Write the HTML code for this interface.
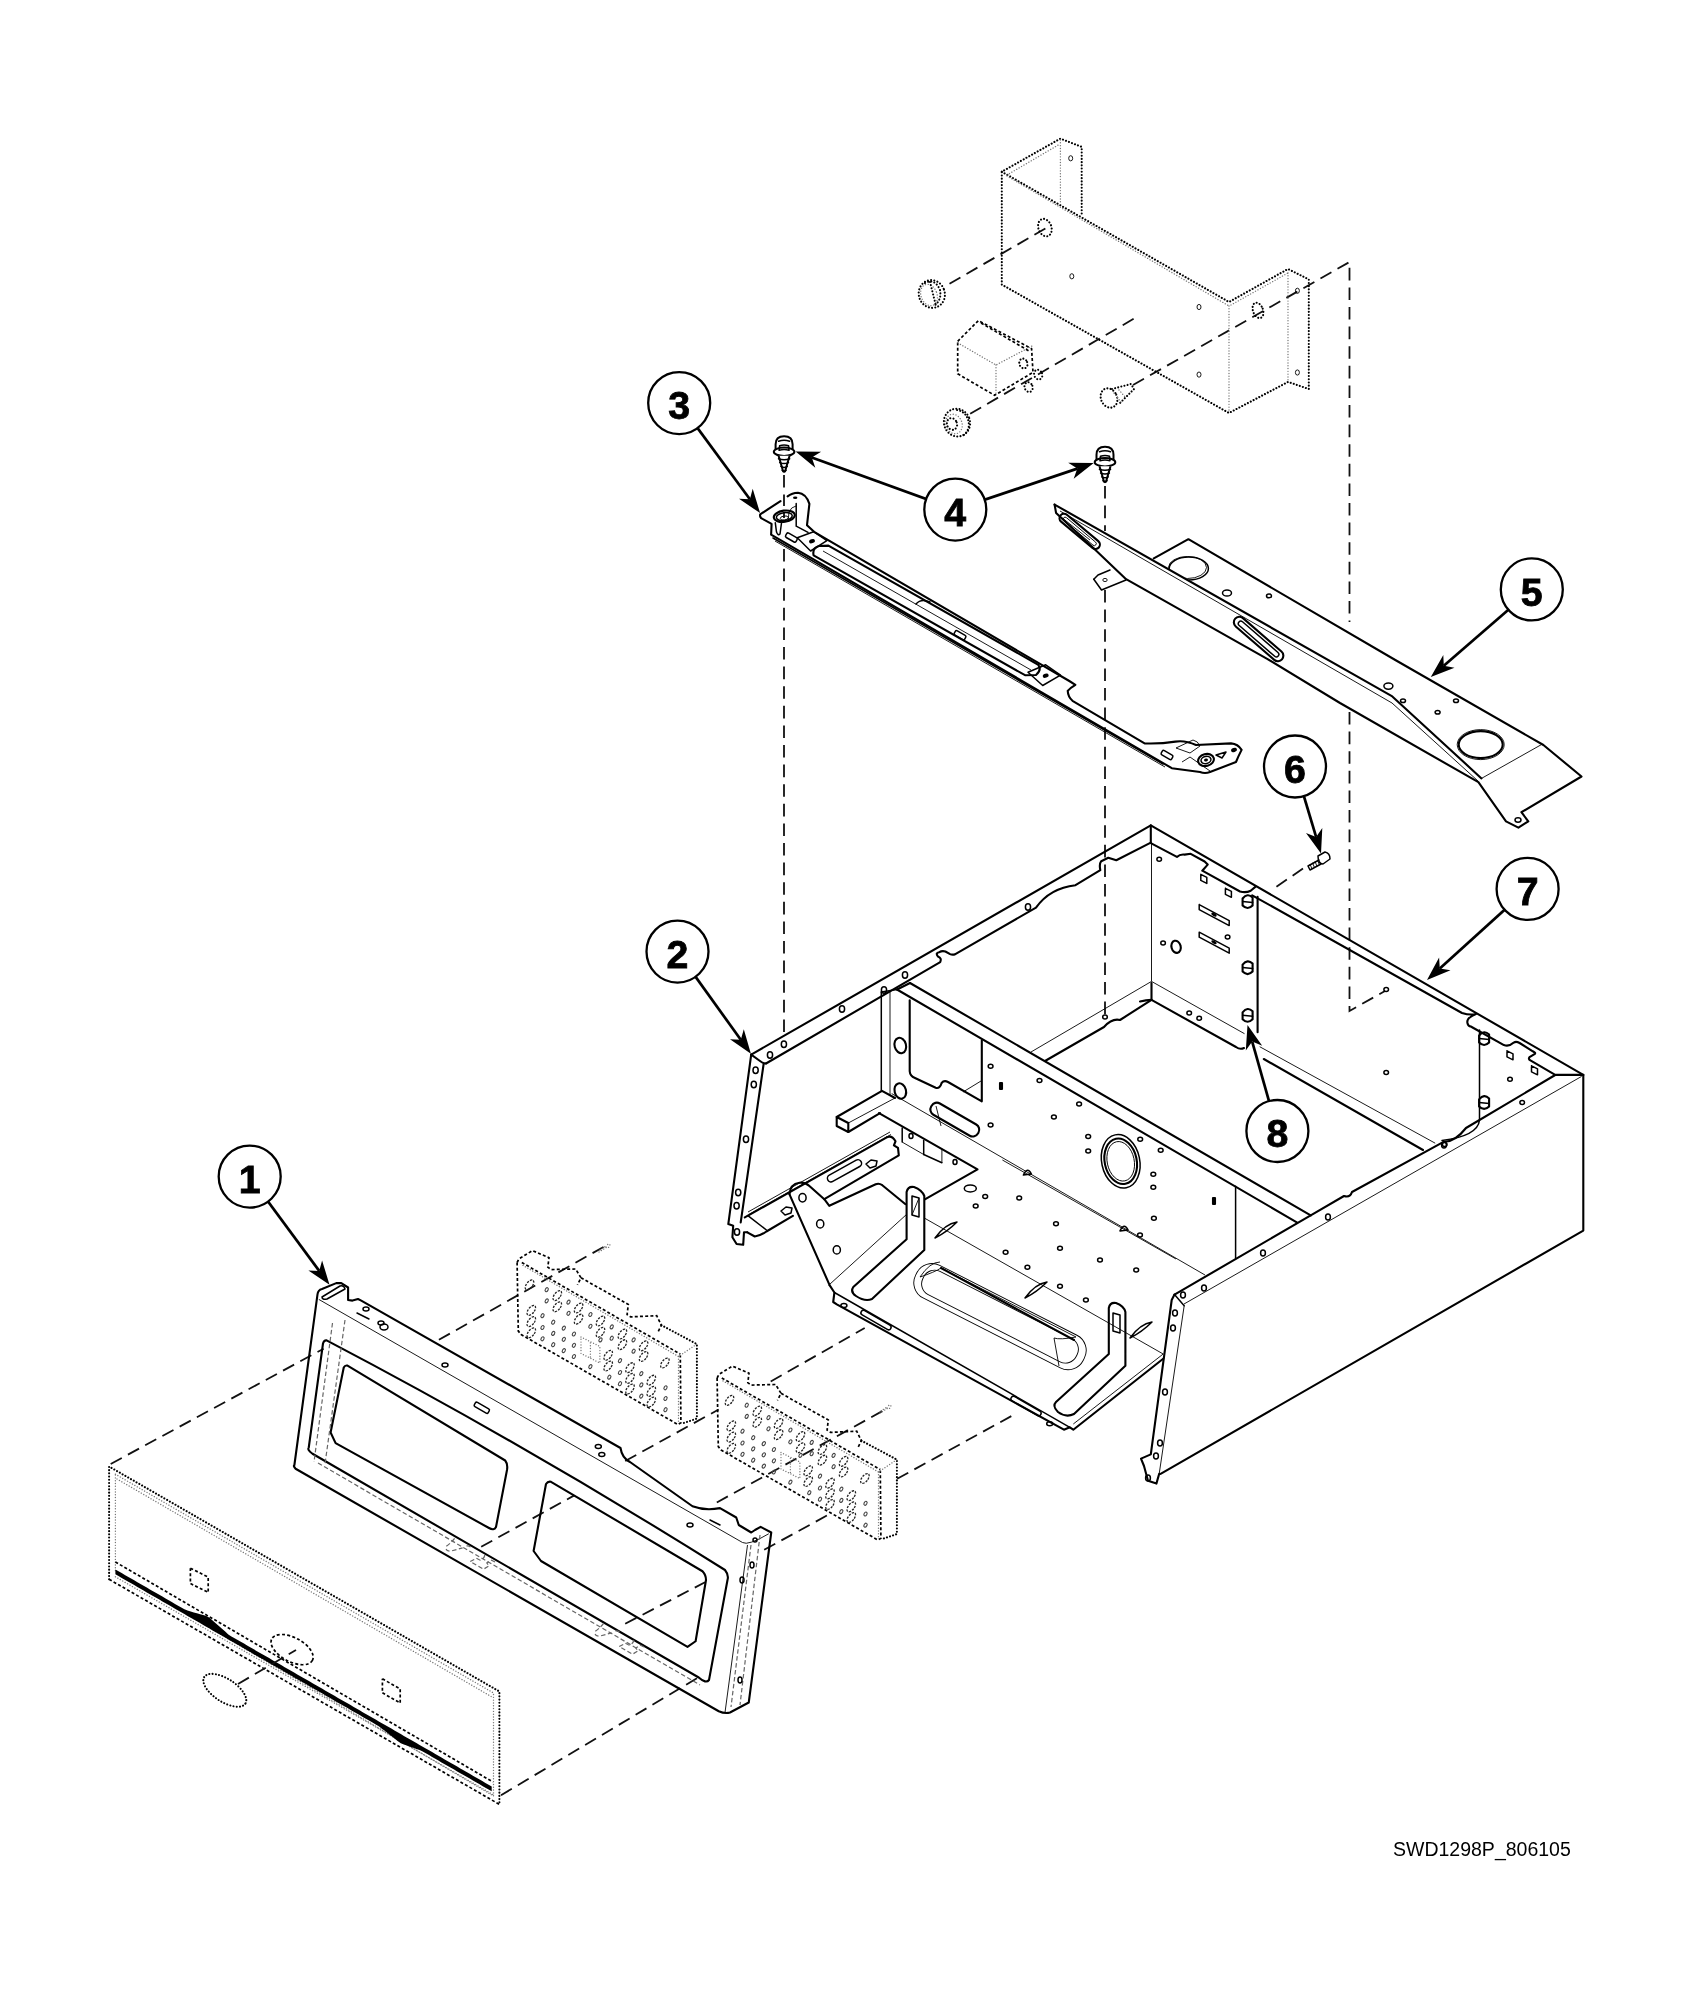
<!DOCTYPE html>
<html><head><meta charset="utf-8"><style>
html,body{margin:0;padding:0;background:#fff;}
svg{display:block;filter:grayscale(1);}
.k{fill:none;stroke:#000;stroke-width:2.1;stroke-linejoin:round;stroke-linecap:round;}
.sw{fill:#fff;stroke:#000;stroke-width:2;stroke-linejoin:round;}
.ho{fill:none;stroke:#222;stroke-width:1.3;stroke-dasharray:2.2 1.3;}
.hs{fill:none;stroke:#444;stroke-width:1.1;}
.hd{fill:none;stroke:#666;stroke-width:1.2;stroke-dasharray:4.5 2.5;}
.m{fill:none;stroke:#000;stroke-width:1.5;stroke-linejoin:round;stroke-linecap:round;}
.t{fill:none;stroke:#000;stroke-width:0.9;stroke-linejoin:round;}
.d{fill:none;stroke:#111;stroke-width:1.8;stroke-dasharray:12.6 7;}
.o{fill:none;stroke:#000;stroke-width:2.1;stroke-dasharray:0.01 3.2;stroke-linecap:round;}
.os{fill:none;stroke:#777;stroke-width:1.4;stroke-dasharray:0.01 2.8;stroke-linecap:round;}
.od{fill:none;stroke:#000;stroke-width:1.7;stroke-dasharray:3 2.2;}
.co{fill:#fff;stroke:#000;stroke-width:2.3;}
.ar{stroke:#000;stroke-width:2.7;}
.ah{fill:#000;stroke:none;}
.fk{fill:#000;stroke:none;}
.num{font-family:"Liberation Sans",sans-serif;font-weight:bold;font-size:39.3px;text-anchor:middle;fill:#000;stroke:#000;stroke-width:0.8;}
.lab{font-family:"Liberation Sans",sans-serif;font-size:19.5px;fill:#000;}
</style></head><body>
<svg width="1691" height="2000" viewBox="0 0 1691 2000">
<text x="1393" y="1856" class="lab">SWD1298P_806105</text>
<line class="d" x1="784.0" y1="475.0" x2="784.0" y2="506.0"/>
<line class="d" x1="784.0" y1="512.0" x2="784.0" y2="518.0"/>
<line class="d" x1="784.0" y1="549.0" x2="784.0" y2="1036.0"/>
<line class="d" x1="1105.0" y1="486.0" x2="1105.0" y2="531.0"/>
<line class="d" x1="1105.0" y1="590.0" x2="1105.0" y2="1016.0"/>
<path class="d" d="M1133.0 385.0 L1349.5 262.0 L1349.5 622.0" />
<path class="d" d="M1349.5 712.0 L1349.5 1011.0 L1385.0 991.0" />
<line class="d" x1="949.5" y1="283.7" x2="1047.0" y2="227.6"/>
<line class="d" x1="970.2" y1="413.8" x2="1139.5" y2="315.4"/>
<line class="d" x1="1303.0" y1="868.5" x2="1273.3" y2="888.9"/>
<line class="d" x1="110.7" y1="1464.0" x2="323.6" y2="1348.7"/>
<line class="d" x1="501.0" y1="1795.2" x2="699.0" y2="1677.0"/>
<line class="d" x1="438.9" y1="1339.8" x2="609.3" y2="1243.7"/>
<line class="d" x1="625.2" y1="1461.0" x2="718.6" y2="1409.5"/>
<line class="d" x1="770.7" y1="1381.5" x2="864.7" y2="1328.0"/>
<line class="d" x1="716.8" y1="1502.5" x2="888.3" y2="1407.8"/>
<line class="d" x1="764.2" y1="1549.8" x2="829.2" y2="1514.3"/>
<line class="d" x1="897.2" y1="1478.8" x2="1015.5" y2="1413.8"/>
<line class="d" x1="481.2" y1="1546.8" x2="574.3" y2="1495.4"/>
<line class="d" x1="625.2" y1="1623.7" x2="705.0" y2="1582.3"/>
<line class="ar" x1="677.5" y1="951.6" x2="740.8" y2="1039.8"/>
<path class="ah" d="M750.9 1053.8 L730.0 1039.3 L740.8 1039.8 L743.8 1029.3 Z"/>
<line class="ar" x1="249.7" y1="1176.6" x2="319.2" y2="1270.9"/>
<path class="ah" d="M329.5 1284.8 L308.4 1270.5 L319.2 1270.9 L322.1 1260.4 Z"/>
<line class="ar" x1="679.2" y1="403.1" x2="749.9" y2="499.2"/>
<path class="ah" d="M760.1 513.1 L739.0 498.8 L749.9 499.2 L752.7 488.7 Z"/>
<line class="ar" x1="955.3" y1="509.6" x2="811.8" y2="457.5"/>
<path class="ah" d="M795.6 451.6 L821.1 451.8 L811.8 457.5 L815.3 467.8 Z"/>
<line class="ar" x1="955.3" y1="509.6" x2="1077.3" y2="468.6"/>
<path class="ah" d="M1093.7 463.1 L1073.7 478.8 L1077.3 468.6 L1068.2 462.7 Z"/>
<line class="ar" x1="1531.8" y1="589.4" x2="1443.8" y2="665.8"/>
<path class="ah" d="M1430.8 677.1 L1443.3 654.9 L1443.8 665.8 L1454.5 667.8 Z"/>
<line class="ar" x1="1295.0" y1="766.5" x2="1316.1" y2="836.9"/>
<path class="ah" d="M1321.0 853.5 L1306.0 832.9 L1316.1 836.9 L1322.3 828.1 Z"/>
<line class="ar" x1="1527.6" y1="888.9" x2="1439.8" y2="968.4"/>
<path class="ah" d="M1427.0 980.0 L1439.1 957.6 L1439.8 968.4 L1450.5 970.2 Z"/>
<line class="ar" x1="1277.4" y1="1131.0" x2="1252.2" y2="1041.6"/>
<path class="ah" d="M1247.5 1025.0 L1262.2 1045.8 L1252.2 1041.6 L1245.8 1050.4 Z"/>
<circle class="co" cx="249.7" cy="1176.6" r="31"/>
<text x="249.7" y="1192.8999999999999" class="num">1</text>
<circle class="co" cx="677.5" cy="951.6" r="31"/>
<text x="677.5" y="967.9" class="num">2</text>
<circle class="co" cx="679.2" cy="403.1" r="31"/>
<text x="679.2" y="419.40000000000003" class="num">3</text>
<circle class="co" cx="955.3" cy="509.6" r="31"/>
<text x="955.3" y="525.9" class="num">4</text>
<circle class="co" cx="1531.8" cy="589.4" r="31"/>
<text x="1531.8" y="605.6999999999999" class="num">5</text>
<circle class="co" cx="1295" cy="766.5" r="31"/>
<text x="1295" y="782.8" class="num">6</text>
<circle class="co" cx="1527.6" cy="888.9" r="31"/>
<text x="1527.6" y="905.1999999999999" class="num">7</text>
<circle class="co" cx="1277.4" cy="1131" r="31"/>
<text x="1277.4" y="1147.3" class="num">8</text>
<path class="o" d="M1001.8 284.6 L1001.8 171.7 L1060.4 138.6 L1081.7 146.9 L1081.7 216.3" />
<path class="o" d="M1001.8 171.7 L1229.0 302.0 L1288.0 269.0 L1308.8 279.4 L1308.8 389.0 L1288.0 381.9 L1229.0 413.0 L1001.8 284.6" />
<line class="os" x1="1060.4" y1="140.0" x2="1060.4" y2="203.0"/>
<line class="os" x1="1007.0" y1="175.0" x2="1060.0" y2="144.0"/>
<line class="os" x1="1007.0" y1="176.0" x2="1229.0" y2="306.0"/>
<line class="os" x1="1229.0" y1="306.0" x2="1229.0" y2="411.0"/>
<line class="os" x1="1288.0" y1="273.0" x2="1288.0" y2="380.0"/>
<line class="os" x1="1231.0" y1="305.0" x2="1288.0" y2="273.0"/>
<ellipse class="t" cx="1070.7" cy="158.3" rx="2.0" ry="2.6" transform="rotate(0 1070.7 158.3)"/>
<ellipse class="t" cx="1071.8" cy="276.3" rx="2.0" ry="2.6" transform="rotate(0 1071.8 276.3)"/>
<ellipse class="t" cx="1199.0" cy="307.0" rx="2.0" ry="2.6" transform="rotate(0 1199.0 307.0)"/>
<ellipse class="t" cx="1199.0" cy="374.6" rx="2.0" ry="2.6" transform="rotate(0 1199.0 374.6)"/>
<ellipse class="t" cx="1297.4" cy="290.8" rx="2.0" ry="2.6" transform="rotate(0 1297.4 290.8)"/>
<ellipse class="t" cx="1297.4" cy="372.5" rx="2.0" ry="2.6" transform="rotate(0 1297.4 372.5)"/>
<ellipse class="o" cx="1044.9" cy="227.6" rx="6.5" ry="9.0" transform="rotate(-20 1044.9 227.6)"/>
<ellipse class="o" cx="1258.0" cy="310.4" rx="5.0" ry="8.0" transform="rotate(-20 1258.0 310.4)"/>
<ellipse class="o" cx="931.8" cy="294.0" rx="13.0" ry="14.0" transform="rotate(-20 931.8 294.0)"/>
<ellipse class="os" cx="929.0" cy="295.0" rx="8.0" ry="11.0" transform="rotate(-20 929.0 295.0)"/>
<path class="o" d="M925 283 Q935 278 940 290 Q942 300 934 306" />
<line class="o" x1="930.0" y1="282.0" x2="936.0" y2="306.0"/>
<ellipse class="o" cx="957.0" cy="422.6" rx="13.0" ry="14.0" transform="rotate(-20 957.0 422.6)"/>
<ellipse class="os" cx="954.0" cy="424.0" rx="8.0" ry="10.0" transform="rotate(-20 954.0 424.0)"/>
<ellipse class="o" cx="952.0" cy="424.0" rx="5.0" ry="6.0" transform="rotate(-20 952.0 424.0)"/>
<path class="o" d="M957 410 Q968 412 969 425 Q968 433 962 436" />
<path class="od" d="M957.7 341.3 L978.4 320.6 L1031.6 348.7 L1033.0 372.4 L994.6 395.3 L957.7 373.8 L957.7 341.3" />
<path class="os" d="M958.0 343.0 L996.0 365.0 L1032.0 346.0" />
<line class="os" x1="996.0" y1="365.0" x2="996.0" y2="394.0"/>
<line class="od" x1="981.0" y1="323.0" x2="1029.0" y2="351.0"/>
<ellipse class="o" cx="1023.4" cy="363.5" rx="4.0" ry="5.0" transform="rotate(-20 1023.4 363.5)"/>
<ellipse class="o" cx="1038.2" cy="374.6" rx="4.0" ry="5.0" transform="rotate(-20 1038.2 374.6)"/>
<ellipse class="o" cx="1028.6" cy="387.1" rx="4.0" ry="5.0" transform="rotate(-20 1028.6 387.1)"/>
<ellipse class="o" cx="1109.0" cy="398.0" rx="8.0" ry="10.0" transform="rotate(-25 1109.0 398.0)"/>
<path class="o" d="M1112.0 389.0 L1131.0 384.0 L1134.0 389.0 L1118.0 405.0" />
<line class="os" x1="1114.0" y1="393.0" x2="1121.0" y2="402.0"/>
<line class="os" x1="1119.0" y1="390.0" x2="1126.0" y2="398.0"/>
<path class="m" d="M1318 856 L1325 852 Q1330 853 1330 859 L1323 864 Q1318 864 1318 856 Z" />
<path class="m" d="M1319.0 860.0 L1308.0 866.0 L1310.0 870.0 L1321.0 864.0" />
<line class="t" x1="1310.0" y1="864.0" x2="1312.0" y2="869.0"/>
<line class="t" x1="1312.5" y1="862.7" x2="1314.5" y2="867.7"/>
<line class="t" x1="1315.0" y1="861.4" x2="1317.0" y2="866.4"/>
<line class="t" x1="1317.5" y1="860.1" x2="1319.5" y2="865.1"/>
<path class="sw" d="M775.6 449.3 L775.6 444.3 Q775.6 436.3 784.1 436.3 Q792.6 436.3 792.6 444.3 L792.6 449.3" />
<ellipse class="sw" cx="784.1" cy="451.8" rx="10.3" ry="4.2" transform="rotate(0 784.1 451.8)"/>
<path class="m" d="M778.6 441.3 Q784.1 439.3 789.6 441.3" />
<path class="m" d="M779.6 445.8 Q784.1 444.3 788.6 445.8 L789.1 450.3 Q784.1 448.8 779.1 450.3 Z" />
<path class="sw" d="M778.6 455.8 L783.1 471.3 L784.1 471.8 L785.1 471.3 L789.6 455.8" />
<path class="m" d="M778.5 458.8 Q784.1 460.8 789.7 458.8" />
<path class="m" d="M779.7 462.6 Q784.1 464.6 788.5 462.6" />
<path class="m" d="M780.9 466.40000000000003 Q784.1 468.40000000000003 787.3000000000001 466.40000000000003" />
<path class="m" d="M782.1 470.2 Q784.1 472.2 786.1 470.2" />
<path class="sw" d="M1096.5 459.7 L1096.5 454.7 Q1096.5 446.7 1105 446.7 Q1113.5 446.7 1113.5 454.7 L1113.5 459.7" />
<ellipse class="sw" cx="1105.0" cy="462.2" rx="10.3" ry="4.2" transform="rotate(0 1105.0 462.2)"/>
<path class="m" d="M1099.5 451.7 Q1105 449.7 1110.5 451.7" />
<path class="m" d="M1100.5 456.2 Q1105 454.7 1109.5 456.2 L1110 460.7 Q1105 459.2 1100 460.7 Z" />
<path class="sw" d="M1099.5 466.2 L1104.0 481.7 L1105.0 482.2 L1106.0 481.7 L1110.5 466.2" />
<path class="m" d="M1099.4 469.2 Q1105 471.2 1110.6 469.2" />
<path class="m" d="M1100.6 473.0 Q1105 475.0 1109.4 473.0" />
<path class="m" d="M1101.8 476.8 Q1105 478.8 1108.2 476.8" />
<path class="m" d="M1103.0 480.59999999999997 Q1105 482.59999999999997 1107.0 480.59999999999997" />
<path class="k" d="M787.6 496.4 Q792 493 798 492.8 Q806 493.5 809.4 503.9 L807 525.2 L814.1 531.8 L823.9 537.7 L1069.3 681 L1075.4 684.8 Q1070 688 1067.7 690.8 Q1068 697 1072.5 700.8 L1144.6 743.4 Q1160 744 1175.4 741.6 Q1185 740 1196 745 L1231 743.4 Q1238 744 1241.6 749.9 Q1238 757 1236 762 L1210 772 Q1205 774 1200 772 L1171.8 768.2 L771.1 534.7 L771.6 523.8 L761.1 518.1 Q759.5 516 760.2 514.3 L780.5 501.1" />
<line class="m" x1="773.0" y1="538.0" x2="1163.0" y2="764.0"/>
<line class="t" x1="775.0" y1="541.0" x2="1165.0" y2="767.0"/>
<path class="k" d="M813.6 555.4 Q812 548 819 546 L828.4 545.6 L1038.3 664.8 Q1042 670 1036 675 L1025 675.2 Z" />
<line class="t" x1="823.0" y1="551.0" x2="1031.0" y2="670.0"/>
<path class="m" d="M916 604 Q921 598 930 602" />
<path class="m" d="M797.3 537.7 L813.6 531.7 L826.9 540.6 L810.6 551.0 L797.3 537.7" />
<path class="m" d="M1028.0 672.2 L1045.7 664.8 L1060.5 675.2 L1042.7 685.5 L1028.0 672.2" />
<ellipse class="fk" cx="812.0" cy="541.2" rx="3.0" ry="2.0" transform="rotate(-20 812.0 541.2)"/>
<ellipse class="fk" cx="1045.7" cy="675.7" rx="3.0" ry="2.0" transform="rotate(-20 1045.7 675.7)"/>
<rect class="m" x="-6" y="-2.5" width="12" height="5" rx="1.5" transform="translate(791.4 537.6) rotate(30)"/>
<rect class="m" x="-6" y="-2.5" width="12" height="5" rx="1.5" transform="translate(960 635.2) rotate(30)"/>
<ellipse class="k" cx="784.3" cy="516.2" rx="10.6" ry="5.6" transform="rotate(-8 784.3 516.2)"/>
<ellipse class="m" cx="784.3" cy="516.6" rx="8.0" ry="4.0" transform="rotate(-8 784.3 516.6)"/>
<ellipse class="t" cx="784.3" cy="518.0" rx="4.0" ry="2.0" transform="rotate(-8 784.3 518.0)"/>
<path class="m" d="M775.3 522.8 L776.5 532 Q778 536 780 534 L781.5 523" />
<path class="m" d="M796.2 503.4 L796.2 526.2 L808 532.3" />
<path class="t" d="M788 522 L789 512 Q791 507 796 506" />
<ellipse class="fk" cx="795.2" cy="497.8" rx="2.2" ry="1.3" transform="rotate(0 795.2 497.8)"/>
<path class="t" d="M1176 748 L1193 740 Q1198 741 1200 746 L1190 753 Z" />
<ellipse class="k" cx="1206.0" cy="760.0" rx="8.0" ry="6.0" transform="rotate(-15 1206.0 760.0)"/>
<ellipse class="m" cx="1206.0" cy="760.0" rx="5.0" ry="3.6" transform="rotate(-15 1206.0 760.0)"/>
<ellipse class="fk" cx="1206.0" cy="760.0" rx="2.0" ry="1.5" transform="rotate(-15 1206.0 760.0)"/>
<rect class="m" x="-6" y="-2.5" width="12" height="5" rx="1.5" transform="translate(1167 755) rotate(30)"/>
<path class="t" d="M1182 762 L1190 757 L1210 771" />
<path class="m" d="M1216 755 L1226 752 L1222 758 Z" />
<ellipse class="fk" cx="1234.0" cy="750.0" rx="3.0" ry="2.0" transform="rotate(-20 1234.0 750.0)"/>
<path class="k" d="M1054.6 504.6 L1392.3 696.4 L1481.5 778.4" />
<path class="k" d="M1054.6 504.6 L1056.1 513.1 L1092.3 546.9 L1126.1 579.2 L1267.6 659.1 L1340.0 703.0 L1478.4 782.2 L1506.0 821.4 L1518.4 827.6 L1528.3 821.4 L1521.4 812.2 L1581.5 776.5 L1543.4 745.0 L1395.3 660.0 L1188.4 539.2 L1153.8 558.4" />
<path class="t" d="M1060.0 511.0 L1392.0 703.0 L1478.0 781.0" />
<line class="t" x1="1481.5" y1="778.4" x2="1541.4" y2="744.6"/>
<line class="t" x1="1056.0" y1="513.0" x2="1090.0" y2="540.0"/>
<rect class="k" x="-25" y="-4.5" width="50" height="9" rx="4.5" transform="translate(1079.7 531.4) rotate(40)"/>
<rect class="t" x="-21" y="-2" width="42" height="4" rx="2" transform="translate(1079.7 531.4) rotate(40)"/>
<rect class="k" x="-31" y="-5.5" width="62" height="11" rx="5.5" transform="translate(1258.6 639) rotate(41)"/>
<rect class="m" x="-26" y="-2.5" width="52" height="5" rx="2.5" transform="translate(1258.6 639) rotate(41)"/>
<clipPath id="c5"><path d="M1150 530 L1200 530 L1300 600 L1300 642.2 L1054.6 504.6 Z"/></clipPath>
<ellipse class="m" cx="1188.8" cy="568.5" rx="19.6" ry="11.5" clip-path="url(#c5)"/>
<ellipse class="t" cx="1187.5" cy="567.5" rx="19" ry="11" clip-path="url(#c5)"/>
<ellipse class="k" cx="1480.7" cy="744.6" rx="22.0" ry="13.5" transform="rotate(0 1480.7 744.6)"/>
<ellipse class="t" cx="1480.7" cy="744.6" rx="23.5" ry="15.0" transform="rotate(0 1480.7 744.6)"/>
<ellipse class="m" cx="1227.0" cy="593.0" rx="4.5" ry="3.1" transform="rotate(0 1227.0 593.0)"/>
<ellipse class="m" cx="1269.0" cy="595.9" rx="2.5" ry="1.8" transform="rotate(0 1269.0 595.9)"/>
<ellipse class="m" cx="1388.4" cy="686.1" rx="4.5" ry="3.1" transform="rotate(0 1388.4 686.1)"/>
<ellipse class="m" cx="1403.0" cy="700.7" rx="2.5" ry="1.8" transform="rotate(0 1403.0 700.7)"/>
<ellipse class="m" cx="1456.0" cy="700.7" rx="2.5" ry="1.8" transform="rotate(0 1456.0 700.7)"/>
<ellipse class="m" cx="1437.6" cy="712.3" rx="2.5" ry="1.8" transform="rotate(0 1437.6 712.3)"/>
<path class="m" d="M1093.8 579.2 L1101.5 590.0 L1126.0 580.0" />
<path class="m" d="M1093.8 579.2 L1098.0 575.0 L1110.0 570.0" />
<ellipse class="t" cx="1105.0" cy="580.0" rx="2.2" ry="1.6" transform="rotate(0 1105.0 580.0)"/>
<ellipse class="m" cx="1518.0" cy="820.0" rx="3.0" ry="2.2" transform="rotate(0 1518.0 820.0)"/>
<path class="k" d="M751.2 1054.6 L1150.8 825.4 L1583.3 1074.8 L1583.3 1230.6 L1160.6 1473.8" />
<path class="k" d="M751.2 1054.6 L728.3 1224.1 L733.2 1225.7 L732.4 1237.3 L736.6 1244.0 L743.2 1244.8 L744.0 1232.3 L747.3 1232.3" />
<path class="k" d="M763.7 1063.5 L740.7 1222.4" />
<path class="k" d="M751.2 1054.6 L760 1061 Q763 1063.5 766 1063.5" />
<ellipse class="m" cx="755.6" cy="1070.2" rx="2.6" ry="3.2" transform="rotate(0 755.6 1070.2)"/>
<ellipse class="m" cx="753.8" cy="1084.5" rx="2.6" ry="3.2" transform="rotate(0 753.8 1084.5)"/>
<ellipse class="m" cx="746.0" cy="1139.2" rx="2.6" ry="3.2" transform="rotate(0 746.0 1139.2)"/>
<ellipse class="m" cx="738.2" cy="1192.5" rx="2.6" ry="3.2" transform="rotate(0 738.2 1192.5)"/>
<ellipse class="m" cx="736.6" cy="1205.8" rx="2.6" ry="3.2" transform="rotate(0 736.6 1205.8)"/>
<ellipse class="m" cx="737.0" cy="1232.0" rx="2.6" ry="3.2" transform="rotate(0 737.0 1232.0)"/>
<ellipse class="m" cx="770.0" cy="1055.0" rx="2.6" ry="3.2" transform="rotate(0 770.0 1055.0)"/>
<ellipse class="m" cx="783.9" cy="1044.2" rx="2.6" ry="3.2" transform="rotate(0 783.9 1044.2)"/>
<ellipse class="m" cx="842.0" cy="1009.0" rx="2.6" ry="3.2" transform="rotate(0 842.0 1009.0)"/>
<ellipse class="m" cx="884.0" cy="990.0" rx="2.6" ry="3.2" transform="rotate(0 884.0 990.0)"/>
<ellipse class="m" cx="905.0" cy="975.0" rx="2.6" ry="3.2" transform="rotate(0 905.0 975.0)"/>
<ellipse class="m" cx="1028.0" cy="907.0" rx="2.6" ry="3.2" transform="rotate(0 1028.0 907.0)"/>
<path class="k" d="M766 1063.5 L940.2 962.2 Q942 958 938 956.5 Q935 953 939.3 952.2 Q942 950.5 945.4 951.5 L950.1 954.1 Q952 955 954.9 954.4 L1036 907.6 Q1050 888 1075.5 885.2 L1100.3 870.1 Q1099 864 1101.2 861.2 L1108.3 857.7 L1116.3 860.3 L1150.8 842.6" />
<line class="k" x1="1150.8" y1="825.4" x2="1150.8" y2="842.6"/>
<line class="t" x1="1151.5" y1="843.1" x2="1151.5" y2="981.4"/>
<path class="k" d="M1150.8 843.1 L1176.9 856.9 Q1180 854 1184.6 854.6 L1190.7 853.8 L1204.6 861.5 L1207.7 864.6 L1202.3 870.7 L1240 891.5 Q1246 893 1250.7 890.7 L1255.3 886.9 M1252.2 895.3 L1462 1013 Q1470 1015.5 1476 1014 Q1466 1018 1467.5 1023.2 Q1468 1026 1470.8 1026.5 L1503.9 1045.1 Q1509 1047 1513.8 1042.6 Q1516 1041 1519.6 1043 L1532.8 1051.3 Q1536 1053 1534.9 1053.8 L1529.5 1057.1 Q1528 1059 1530.4 1060.4 L1555.2 1074.9 L1583.3 1074.8" />
<line class="k" x1="1257.6" y1="896.9" x2="1257.6" y2="1032.2"/>
<line class="m" x1="1479.5" y1="1030.0" x2="1479.5" y2="1120.0"/>
<path class="k" d="M1242.6 898.5 Q1247.6 892.5 1252.6 897.5 L1252.6 905.5 Q1247.6 910.5 1242.6 905.5 Z" />
<line class="m" x1="1242.6" y1="901.5" x2="1252.6" y2="902.5"/>
<path class="k" d="M1242.6 964.6 Q1247.6 958.6 1252.6 963.6 L1252.6 971.6 Q1247.6 976.6 1242.6 971.6 Z" />
<line class="m" x1="1242.6" y1="967.6" x2="1252.6" y2="968.6"/>
<path class="k" d="M1242.6 1012.3 Q1247.6 1006.3 1252.6 1011.3 L1252.6 1019.3 Q1247.6 1024.3 1242.6 1019.3 Z" />
<line class="m" x1="1242.6" y1="1015.3" x2="1252.6" y2="1016.3"/>
<path class="k" d="M1479.1 1035.5 Q1484.1 1029.5 1489.1 1034.5 L1489.1 1042.5 Q1484.1 1047.5 1479.1 1042.5 Z" />
<line class="m" x1="1479.1" y1="1038.5" x2="1489.1" y2="1039.5"/>
<path class="k" d="M1479.1 1099.4 Q1484.1 1093.4 1489.1 1098.4 L1489.1 1106.4 Q1484.1 1111.4 1479.1 1106.4 Z" />
<line class="m" x1="1479.1" y1="1102.4" x2="1489.1" y2="1103.4"/>
<path class="m" d="M1200.8 874.4 L1206.8 877.4 L1206.8 883.4 L1200.8 880.4 L1200.8 874.4" />
<path class="m" d="M1225.4 888.3 L1231.4 891.3 L1231.4 897.3 L1225.4 894.3 L1225.4 888.3" />
<path class="m" d="M1507.0 1050.8 L1513.0 1053.8 L1513.0 1059.8 L1507.0 1056.8 L1507.0 1050.8" />
<path class="m" d="M1531.5 1065.8 L1537.5 1068.8 L1537.5 1074.8 L1531.5 1071.8 L1531.5 1065.8" />
<path class="m" d="M1199.2 904.6 L1229.2 920.6 L1229.2 925.6 L1199.2 909.6 L1199.2 904.6" />
<ellipse class="fk" cx="1214.0" cy="914.6" rx="3.0" ry="1.5" transform="rotate(28 1214.0 914.6)"/>
<path class="m" d="M1199.2 932.2 L1229.2 948.2 L1229.2 953.2 L1199.2 937.2 L1199.2 932.2" />
<ellipse class="fk" cx="1214.0" cy="942.2" rx="3.0" ry="1.5" transform="rotate(28 1214.0 942.2)"/>
<ellipse class="k" cx="1176.1" cy="946.8" rx="4.6" ry="6.2" transform="rotate(-15 1176.1 946.8)"/>
<ellipse class="m" cx="1159.2" cy="859.2" rx="2.3" ry="2.0" transform="rotate(0 1159.2 859.2)"/>
<ellipse class="m" cx="1163.1" cy="943.0" rx="2.3" ry="2.0" transform="rotate(0 1163.1 943.0)"/>
<ellipse class="m" cx="1227.6" cy="936.9" rx="2.3" ry="2.0" transform="rotate(0 1227.6 936.9)"/>
<ellipse class="m" cx="1189.2" cy="1013.0" rx="2.3" ry="2.0" transform="rotate(0 1189.2 1013.0)"/>
<ellipse class="m" cx="1199.2" cy="1018.3" rx="2.3" ry="2.0" transform="rotate(0 1199.2 1018.3)"/>
<ellipse class="m" cx="1386.2" cy="989.5" rx="2.3" ry="2.0" transform="rotate(0 1386.2 989.5)"/>
<ellipse class="m" cx="1386.2" cy="1072.5" rx="2.3" ry="2.0" transform="rotate(0 1386.2 1072.5)"/>
<ellipse class="m" cx="1510.0" cy="1079.3" rx="2.3" ry="2.0" transform="rotate(0 1510.0 1079.3)"/>
<ellipse class="m" cx="1522.2" cy="1102.4" rx="2.3" ry="2.0" transform="rotate(0 1522.2 1102.4)"/>
<ellipse class="m" cx="1444.7" cy="1144.6" rx="2.3" ry="2.0" transform="rotate(0 1444.7 1144.6)"/>
<ellipse class="m" cx="1105.0" cy="1017.0" rx="2.3" ry="2.0" transform="rotate(0 1105.0 1017.0)"/>
<path class="k" d="M1151.5 983 L1151.5 999.9 L1236 1047 Q1240 1050 1244 1048" />
<line class="t" x1="1151.5" y1="981.4" x2="1244.5" y2="1033.7"/>
<path class="k" d="M1045 1061 L1104 1027 Q1112 1018 1120 1020 L1151.5 999.9" />
<path class="k" d="M1140 1001.4 Q1146 1000 1151.5 999.9" />
<line class="t" x1="1031.0" y1="1052.0" x2="1151.5" y2="981.4"/>
<line class="k" x1="1263.8" y1="1059.0" x2="1423.0" y2="1150.0"/>
<line class="t" x1="1259.7" y1="1046.7" x2="1435.2" y2="1143.2"/>
<path class="m" d="M1479.5 1120 Q1478 1136 1442 1140.5" />
<line class="k" x1="897.0" y1="989.5" x2="1296.8" y2="1222.3"/>
<line class="k" x1="910.0" y1="983.0" x2="1310.7" y2="1215.4"/>
<line class="k" x1="897.0" y1="989.5" x2="910.0" y2="983.0"/>
<line class="m" x1="881.3" y1="992.1" x2="881.3" y2="1091.0"/>
<line class="t" x1="890.0" y1="990.0" x2="890.0" y2="1096.0"/>
<line class="m" x1="881.3" y1="992.1" x2="897.0" y2="989.5"/>
<path class="k" d="M909.7 1000.2 L909.7 1071.2 Q910 1076 915 1078 L935.7 1087.7 Q940 1089 941.6 1083 Q944 1080 948 1082 L981.8 1101.3 L981.8 1040.4" />
<line class="t" x1="963.0" y1="1092.0" x2="981.0" y2="1081.0"/>
<line class="m" x1="1235.6" y1="1186.2" x2="1235.6" y2="1258.4"/>
<line class="t" x1="891.7" y1="1093.6" x2="1205.0" y2="1275.0"/>
<line class="t" x1="1002.4" y1="1160.0" x2="1176.0" y2="1259.0"/>
<ellipse class="k" cx="900.3" cy="1045.5" rx="5.7" ry="7.8" transform="rotate(-15 900.3 1045.5)"/>
<ellipse class="k" cx="900.3" cy="1091.0" rx="5.7" ry="7.8" transform="rotate(-15 900.3 1091.0)"/>
<rect class="k" x="-27" y="-6.5" width="54" height="13" rx="6" transform="translate(954.8 1119.6) rotate(30)"/>
<line class="t" x1="936.0" y1="1106.0" x2="941.0" y2="1126.0"/>
<ellipse class="m" cx="990.6" cy="1066.3" rx="2.4" ry="2.0" transform="rotate(0 990.6 1066.3)"/>
<ellipse class="m" cx="1039.5" cy="1080.6" rx="2.4" ry="2.0" transform="rotate(0 1039.5 1080.6)"/>
<ellipse class="m" cx="1079.1" cy="1104.0" rx="2.4" ry="2.0" transform="rotate(0 1079.1 1104.0)"/>
<ellipse class="m" cx="1053.9" cy="1117.0" rx="2.4" ry="2.0" transform="rotate(0 1053.9 1117.0)"/>
<ellipse class="m" cx="990.6" cy="1124.9" rx="2.4" ry="2.0" transform="rotate(0 990.6 1124.9)"/>
<ellipse class="m" cx="1088.2" cy="1136.6" rx="2.4" ry="2.0" transform="rotate(0 1088.2 1136.6)"/>
<ellipse class="m" cx="1088.2" cy="1150.9" rx="2.4" ry="2.0" transform="rotate(0 1088.2 1150.9)"/>
<ellipse class="m" cx="1140.2" cy="1139.2" rx="2.4" ry="2.0" transform="rotate(0 1140.2 1139.2)"/>
<ellipse class="m" cx="1153.3" cy="1174.3" rx="2.4" ry="2.0" transform="rotate(0 1153.3 1174.3)"/>
<ellipse class="m" cx="1153.3" cy="1187.3" rx="2.4" ry="2.0" transform="rotate(0 1153.3 1187.3)"/>
<ellipse class="m" cx="1160.7" cy="1150.3" rx="2.4" ry="2.0" transform="rotate(0 1160.7 1150.3)"/>
<ellipse class="m" cx="1153.9" cy="1218.3" rx="2.4" ry="2.0" transform="rotate(0 1153.9 1218.3)"/>
<ellipse class="m" cx="985.2" cy="1196.6" rx="2.4" ry="2.0" transform="rotate(0 985.2 1196.6)"/>
<ellipse class="m" cx="975.7" cy="1206.1" rx="2.4" ry="2.0" transform="rotate(0 975.7 1206.1)"/>
<ellipse class="m" cx="1019.2" cy="1197.9" rx="2.4" ry="2.0" transform="rotate(0 1019.2 1197.9)"/>
<ellipse class="m" cx="1056.0" cy="1223.8" rx="2.4" ry="2.0" transform="rotate(0 1056.0 1223.8)"/>
<ellipse class="m" cx="1005.6" cy="1252.3" rx="2.4" ry="2.0" transform="rotate(0 1005.6 1252.3)"/>
<ellipse class="m" cx="1060.0" cy="1248.3" rx="2.4" ry="2.0" transform="rotate(0 1060.0 1248.3)"/>
<ellipse class="m" cx="1027.4" cy="1267.3" rx="2.4" ry="2.0" transform="rotate(0 1027.4 1267.3)"/>
<ellipse class="m" cx="1060.0" cy="1286.3" rx="2.4" ry="2.0" transform="rotate(0 1060.0 1286.3)"/>
<ellipse class="m" cx="1085.9" cy="1300.0" rx="2.4" ry="2.0" transform="rotate(0 1085.9 1300.0)"/>
<ellipse class="m" cx="1136.2" cy="1270.0" rx="2.4" ry="2.0" transform="rotate(0 1136.2 1270.0)"/>
<ellipse class="m" cx="1100.0" cy="1260.0" rx="2.4" ry="2.0" transform="rotate(0 1100.0 1260.0)"/>
<ellipse class="m" cx="1140.0" cy="1235.0" rx="2.4" ry="2.0" transform="rotate(0 1140.0 1235.0)"/>
<ellipse class="m" cx="970.3" cy="1188.4" rx="6.0" ry="3.5" transform="rotate(0 970.3 1188.4)"/>
<path class="k" d="M1000.0 1083.0 L1002.0 1083.0 L1002.0 1089.0 L1000.0 1089.0 L1000.0 1083.0" />
<path class="k" d="M1213.0 1198.0 L1215.0 1198.0 L1215.0 1204.0 L1213.0 1204.0 L1213.0 1198.0" />
<path class="m" d="M1023.4000000000001 1175.1 Q1027.4 1166.1 1031.4 1174.1 Z" />
<path class="m" d="M1120 1230.9 Q1124 1221.9 1128 1229.9 Z" />
<path class="k" d="M836.7 1117.0 L882.0 1090.8 L895.0 1098.0" />
<path class="k" d="M836.7 1117.0 L836.7 1126.0 L848.3 1132.0 L848.3 1123.0 L836.7 1117.0" />
<path class="k" d="M848.3 1132.0 L880.0 1113.1" />
<line class="t" x1="848.3" y1="1123.0" x2="895.0" y2="1098.0"/>
<path class="k" d="M1174.5 1294.6 L1310.7 1215.4 L1344 1196 Q1350 1198 1352 1192 L1444 1141.7 Q1455 1142 1466 1128 L1555.2 1075 L1583.3 1075" />
<line class="t" x1="1184.0" y1="1304.0" x2="1581.6" y2="1076.4"/>
<path class="k" d="M1174.5 1294.6 L1171.7 1300.0 L1150.8 1454.4 L1141.0 1458.6 L1144.0 1466.0 L1148.0 1480.8 L1156.4 1483.6 L1159.2 1473.8" />
<line class="t" x1="1184.2" y1="1305.7" x2="1159.2" y2="1473.8"/>
<line class="m" x1="1174.5" y1="1294.6" x2="1184.2" y2="1305.7"/>
<ellipse class="m" cx="1175.0" cy="1313.0" rx="2.4" ry="3.0" transform="rotate(0 1175.0 1313.0)"/>
<ellipse class="m" cx="1173.0" cy="1328.0" rx="2.4" ry="3.0" transform="rotate(0 1173.0 1328.0)"/>
<ellipse class="m" cx="1165.0" cy="1392.0" rx="2.4" ry="3.0" transform="rotate(0 1165.0 1392.0)"/>
<ellipse class="m" cx="1160.0" cy="1443.0" rx="2.4" ry="3.0" transform="rotate(0 1160.0 1443.0)"/>
<ellipse class="m" cx="1156.0" cy="1456.0" rx="2.4" ry="3.0" transform="rotate(0 1156.0 1456.0)"/>
<ellipse class="m" cx="1148.0" cy="1478.0" rx="2.4" ry="3.0" transform="rotate(0 1148.0 1478.0)"/>
<ellipse class="m" cx="1183.0" cy="1295.0" rx="2.4" ry="3.0" transform="rotate(0 1183.0 1295.0)"/>
<ellipse class="m" cx="1204.0" cy="1288.0" rx="2.4" ry="3.0" transform="rotate(0 1204.0 1288.0)"/>
<ellipse class="m" cx="1263.0" cy="1253.0" rx="2.4" ry="3.0" transform="rotate(0 1263.0 1253.0)"/>
<ellipse class="m" cx="1328.0" cy="1217.0" rx="2.4" ry="3.0" transform="rotate(0 1328.0 1217.0)"/>
<ellipse class="m" cx="1444.0" cy="1145.0" rx="2.4" ry="3.0" transform="rotate(0 1444.0 1145.0)"/>
<path class="k" d="M789.5 1194.3 Q790 1184 799.5 1182.7 Q805 1182 809.4 1186 L824.3 1199.2 L829.3 1205.8 L875.7 1184.3 Q879 1183 882.3 1185.2 L905.5 1204.2" />
<path class="k" d="M789.5 1194.3 L829.7 1285.4 L834.4 1292.5 L833.2 1302.0 L836.8 1304.3 L1063.9 1429.7 L1069.8 1427.3 L1073.3 1429.7 L1163.2 1358.7" />
<line class="m" x1="834.4" y1="1292.5" x2="1069.8" y2="1427.3"/>
<line class="t" x1="1073.3" y1="1424.0" x2="1163.2" y2="1354.0"/>
<line class="t" x1="828.5" y1="1285.4" x2="906.6" y2="1214.4"/>
<line class="t" x1="924.3" y1="1218.0" x2="1163.2" y2="1354.0"/>
<ellipse class="m" cx="802.5" cy="1197.8" rx="3.6" ry="4.2" transform="rotate(0 802.5 1197.8)"/>
<ellipse class="m" cx="820.2" cy="1223.9" rx="3.6" ry="4.2" transform="rotate(0 820.2 1223.9)"/>
<ellipse class="m" cx="836.8" cy="1249.9" rx="3.6" ry="4.2" transform="rotate(0 836.8 1249.9)"/>
<path class="k" d="M906.6 1239.2 L906.6 1192 Q908 1186 914 1187 Q922 1190 924.3 1196 L924.3 1249.9 L872 1299 Q865 1302 856 1296 Q850 1292 853.3 1287 Z" />
<path class="m" d="M912.0 1196.0 L919.0 1198.0 L919.0 1217.0 L912.0 1215.0 L912.0 1196.0" />
<line class="t" x1="912.0" y1="1215.0" x2="919.0" y2="1198.0"/>
<path class="k" d="M1108.8 1354 L1108.8 1308 Q1110 1302 1116 1303 Q1124 1306 1125.4 1312 L1125.4 1365.8 L1074 1414 Q1066 1418 1058 1412 Q1052 1406 1056 1402 Z" />
<path class="m" d="M1113.0 1313.0 L1120.0 1315.0 L1120.0 1333.0 L1113.0 1331.0 L1113.0 1313.0" />
<rect class="t" x="-94" y="-18.3" width="188" height="36.6" rx="17" transform="translate(1000 1316.6) rotate(27)"/>
<rect class="t" x="-86" y="-13" width="172" height="26" rx="12" transform="translate(1000 1316.6) rotate(27)"/>
<path class="t" d="M920 1277 Q935 1272 941 1268 L1076 1337 Q1060 1340 1054 1338 L1059 1366" />
<path class="k" d="M941.0 1268.0 L1074.0 1340.0" />
<path class="t" d="M920 1277 Q930 1262 940 1262" />
<rect class="m" x="-17" y="-2.5" width="34" height="5" rx="2.5" transform="translate(876 1320) rotate(30)"/>
<rect class="m" x="-17" y="-2.5" width="34" height="5" rx="2.5" transform="translate(1026 1406) rotate(30)"/>
<ellipse class="m" cx="843.9" cy="1305.5" rx="3.0" ry="2.0" transform="rotate(0 843.9 1305.5)"/>
<ellipse class="m" cx="1049.7" cy="1423.8" rx="3.0" ry="2.0" transform="rotate(0 1049.7 1423.8)"/>
<path class="m" d="M935 1238 Q945 1224 957 1222 Q947 1232 935 1238 Z" />
<path class="m" d="M1025 1298 Q1035 1284 1047 1282 Q1037 1292 1025 1298 Z" />
<path class="m" d="M1130 1338 Q1140 1324 1152 1322 Q1142 1332 1130 1338 Z" />
<path class="k" d="M744.8 1217.4 L887.2 1137.1" />
<path class="k" d="M887.2 1137.1 Q892 1135 895.5 1141.3 L893.9 1145.4 L898 1147.9 L898.8 1155.3 L824.3 1199.2" />
<line class="t" x1="748.0" y1="1212.0" x2="890.0" y2="1132.0"/>
<line class="t" x1="749.0" y1="1214.5" x2="891.0" y2="1134.5"/>
<rect class="m" x="-19" y="-3.6" width="38" height="7.2" rx="3.6" transform="translate(844.5 1170.8) rotate(-29)"/>
<path class="m" d="M866.0 1164.0 L871.0 1160.0 L877.0 1161.0 L876.0 1166.0 L870.0 1168.0 L866.0 1164.0" />
<path class="m" d="M781.0 1211.0 L786.0 1207.0 L792.0 1208.0 L791.0 1213.0 L785.0 1215.0 L781.0 1211.0" />
<path class="m" d="M748.2 1215.8 L766.4 1230" />
<path class="k" d="M747.3 1232.3 L754.8 1236.5 Q760 1236 766.4 1231.5 L792.9 1215.8" />
<path class="k" d="M879.0 1113.1 L977.5 1169.4 L925.3 1199.2" />
<line class="m" x1="902.2" y1="1128.0" x2="902.2" y2="1142.1"/>
<line class="m" x1="923.7" y1="1140.4" x2="923.7" y2="1154.5"/>
<line class="t" x1="941.9" y1="1148.7" x2="941.9" y2="1162.8"/>
<line class="t" x1="902.2" y1="1142.1" x2="923.7" y2="1154.5"/>
<line class="m" x1="923.7" y1="1154.5" x2="941.9" y2="1162.8"/>
<ellipse class="m" cx="911.0" cy="1136.0" rx="2.0" ry="2.5" transform="rotate(0 911.0 1136.0)"/>
<ellipse class="m" cx="955.0" cy="1162.0" rx="2.0" ry="2.5" transform="rotate(0 955.0 1162.0)"/>
<ellipse class="k" cx="1120.7" cy="1161.3" rx="16.0" ry="23.0" transform="rotate(-12 1120.7 1161.3)"/>
<ellipse class="m" cx="1120.7" cy="1161.3" rx="19.0" ry="27.0" transform="rotate(-12 1120.7 1161.3)"/>
<ellipse class="t" cx="1120.7" cy="1161.3" rx="13.5" ry="20.0" transform="rotate(-12 1120.7 1161.3)"/>
<path class="k" d="M317.5 1294.4 Q318 1290 322 1289 L336.25 1283.1 L341.25 1283.1 L348.1 1287.5 L348.1 1300 L352.5 1300.6 L358 1299 L361.25 1300.6 L620.5 1448 Q622 1458 630 1462 L692.5 1506.25 Q705 1511 720 1508.1 L736.25 1517.5 L738.75 1525 L751.25 1532.5 L755 1530 L760.6 1526.9 L771.25 1532.5 L748.75 1702.5 L730 1712.5 Q725 1714 718.75 1711.25 L295.6 1468.75 Q293 1466 294.4 1465 Z" />
<line class="t" x1="318.8" y1="1299.4" x2="742.5" y2="1542.5"/>
<path class="t" d="M742.5 1542.5 Q748 1546 768.75 1533.75" />
<line class="t" x1="747.5" y1="1545.0" x2="725.0" y2="1712.5"/>
<path class="k" d="M326.6 1340.4 Q525.8 1444.8 725 1570 Q729 1575 727.5 1580 L709 1680 Q706 1684 698.75 1677.5 L312.5 1453.75 Q307 1450 308.75 1447.5 L323 1343.5 Q324 1340 326.6 1340.4 Z" />
<path class="k" d="M347.5 1365.6 L505.2 1460.5 Q508 1464 507 1470 L496 1527 Q494 1531 489 1528 L335.6 1443.1 L330.6 1432.5 L343.75 1367.5 Q345 1365 347.5 1365.6 Z" />
<path class="k" d="M551 1481.8 L702.5 1571.25 Q706 1575 706 1580 L695.6 1641.25 L687.5 1646.9 L541 1561 L533.6 1551 L546 1484 Q548 1481 551 1481.8 Z" />
<path class="m" d="M322 1297 L340 1286 Q344 1285 345 1289 L327 1299 Q322 1300 322 1297" />
<line class="hd" x1="332.5" y1="1323.0" x2="314.0" y2="1462.0"/>
<line class="hd" x1="345.0" y1="1320.0" x2="325.0" y2="1464.0"/>
<line class="hd" x1="760.0" y1="1535.0" x2="740.0" y2="1705.0"/>
<line class="hd" x1="751.0" y1="1545.0" x2="731.0" y2="1707.0"/>
<line class="hd" x1="318.0" y1="1463.0" x2="700.0" y2="1685.0"/>
<ellipse class="m" cx="366.0" cy="1309.0" rx="3.0" ry="2.0" transform="rotate(0 366.0 1309.0)"/>
<ellipse class="m" cx="381.0" cy="1323.0" rx="3.0" ry="2.0" transform="rotate(0 381.0 1323.0)"/>
<ellipse class="m" cx="384.0" cy="1327.0" rx="4.0" ry="3.0" transform="rotate(0 384.0 1327.0)"/>
<ellipse class="m" cx="445.0" cy="1365.0" rx="3.0" ry="2.0" transform="rotate(0 445.0 1365.0)"/>
<ellipse class="m" cx="690.0" cy="1525.0" rx="3.0" ry="2.0" transform="rotate(0 690.0 1525.0)"/>
<ellipse class="m" cx="742.0" cy="1580.0" rx="2.0" ry="3.0" transform="rotate(0 742.0 1580.0)"/>
<ellipse class="m" cx="740.0" cy="1680.0" rx="2.0" ry="3.0" transform="rotate(0 740.0 1680.0)"/>
<ellipse class="m" cx="755.0" cy="1540.0" rx="2.0" ry="2.0" transform="rotate(0 755.0 1540.0)"/>
<ellipse class="m" cx="752.0" cy="1565.0" rx="2.0" ry="3.0" transform="rotate(0 752.0 1565.0)"/>
<path class="m" d="M357.0 1313.0 L369.0 1319.0" />
<ellipse class="m" cx="598.3" cy="1446.6" rx="3.0" ry="2.0" transform="rotate(0 598.3 1446.6)"/>
<ellipse class="m" cx="601.8" cy="1454.6" rx="3.0" ry="2.0" transform="rotate(0 601.8 1454.6)"/>
<rect class="m" x="-8" y="-2.5" width="16" height="5" rx="1.5" transform="translate(481.8 1407.8) rotate(30)"/>
<path class="m" d="M710.0 1520.0 L720.0 1525.0" />
<path class="hd" d="M454.6 1538.4 Q452 1542 446.1 1546.5 Q445 1551 450.3 1551.2 L462.6 1547.9" />
<path class="hd" d="M466.4 1546 Q469 1545 472.1 1548.4" />
<path class="hd" d="M484.9 1555 Q484 1559 480.1 1560.2 L476.4 1558.3 L470.2 1561.6 L483.5 1569.2 L489.1 1565.9 L486.8 1563 L491.5 1560.2 L497.2 1563" />
<path class="hd" d="M603.6 1623.4 Q601 1627 595.1 1631.5 Q594 1636 599.3 1636.2 L611.6 1632.9" />
<path class="hd" d="M615.4 1631 Q618 1630 621.1 1633.4" />
<path class="hd" d="M633.9 1640 Q633 1644 629.1 1645.2 L625.4 1643.3 L619.2 1646.6 L632.5 1654.2 L638.1 1650.9 L635.8 1648 L640.5 1645.2 L646.2 1648" />
<path class="od" d="M517.1 1262.5 L518.3 1331.1 L521.2 1334.6 L677.9 1424.5 L680.9 1422.7 L680.3 1355.3" />
<path class="od" d="M517.1 1262.5 L518.9 1258.9 L532.5 1250.6 L549.0 1257.7 L547.8 1267.2 L551.4 1269.6 L575.6 1269.0 L581.0 1277.8 L577.4 1284.9" />
<path class="od" d="M581.0 1277.8 L628.3 1304.5 L627.1 1314.5 L630.6 1316.9 L656.7 1315.7 L661.4 1325.2 L657.8 1332.3" />
<path class="o" d="M661.4 1325.2 L696.9 1344.1 L696.9 1418.6 L680.9 1423.9" />
<path class="os" d="M680.3 1355.3 L696.9 1344.1" />
<path class="od" d="M521.8 1262.5 L680.3 1354.1" />
<path class="os" d="M523.0 1265.4 L678.5 1356.5" />
<path class="os" d="M678.5 1356.5 L678.5 1422.1" />
<ellipse class="ho" cx="531.3" cy="1310.4" rx="3" ry="5.8" transform="rotate(38 531.3 1310.4)"/>
<ellipse class="ho" cx="531.3" cy="1321.6" rx="3" ry="5.8" transform="rotate(38 531.3 1321.6)"/>
<ellipse class="ho" cx="531.3" cy="1332.8" rx="3" ry="5.8" transform="rotate(38 531.3 1332.8)"/>
<ellipse class="ho" cx="557.3" cy="1295.6" rx="3" ry="5.8" transform="rotate(38 557.3 1295.6)"/>
<ellipse class="ho" cx="557.3" cy="1306.8" rx="3" ry="5.8" transform="rotate(38 557.3 1306.8)"/>
<ellipse class="ho" cx="578.6" cy="1308.0" rx="3" ry="5.8" transform="rotate(38 578.6 1308.0)"/>
<ellipse class="ho" cx="578.6" cy="1319.2" rx="3" ry="5.8" transform="rotate(38 578.6 1319.2)"/>
<ellipse class="ho" cx="600.5" cy="1321.0" rx="3" ry="5.8" transform="rotate(38 600.5 1321.0)"/>
<ellipse class="ho" cx="600.5" cy="1332.3" rx="3" ry="5.8" transform="rotate(38 600.5 1332.3)"/>
<ellipse class="ho" cx="622.4" cy="1334.0" rx="3" ry="5.8" transform="rotate(38 622.4 1334.0)"/>
<ellipse class="ho" cx="622.4" cy="1344.7" rx="3" ry="5.8" transform="rotate(38 622.4 1344.7)"/>
<ellipse class="ho" cx="643.6" cy="1345.9" rx="3" ry="5.8" transform="rotate(38 643.6 1345.9)"/>
<ellipse class="ho" cx="643.6" cy="1356.5" rx="3" ry="5.8" transform="rotate(38 643.6 1356.5)"/>
<ellipse class="ho" cx="608.2" cy="1355.3" rx="3" ry="5.8" transform="rotate(38 608.2 1355.3)"/>
<ellipse class="ho" cx="608.2" cy="1366.0" rx="3" ry="5.8" transform="rotate(38 608.2 1366.0)"/>
<ellipse class="ho" cx="630.0" cy="1367.7" rx="3" ry="5.8" transform="rotate(38 630.0 1367.7)"/>
<ellipse class="ho" cx="630.0" cy="1378.4" rx="3" ry="5.8" transform="rotate(38 630.0 1378.4)"/>
<ellipse class="ho" cx="630.0" cy="1389.0" rx="3" ry="5.8" transform="rotate(38 630.0 1389.0)"/>
<ellipse class="ho" cx="651.3" cy="1380.2" rx="3" ry="5.8" transform="rotate(38 651.3 1380.2)"/>
<ellipse class="ho" cx="651.3" cy="1391.4" rx="3" ry="5.8" transform="rotate(38 651.3 1391.4)"/>
<ellipse class="ho" cx="651.3" cy="1402.0" rx="3" ry="5.8" transform="rotate(38 651.3 1402.0)"/>
<ellipse class="ho" cx="664.9" cy="1363.0" rx="3" ry="5.8" transform="rotate(38 664.9 1363.0)"/>
<ellipse class="ho" cx="529.5" cy="1284.9" rx="3" ry="5.8" transform="rotate(38 529.5 1284.9)"/>
<ellipse class="hs" cx="546.7" cy="1289.7" rx="1.4" ry="2.1" transform="rotate(30 546.7 1289.7)"/>
<ellipse class="hs" cx="546.7" cy="1300.9" rx="1.4" ry="2.1" transform="rotate(30 546.7 1300.9)"/>
<ellipse class="hs" cx="542.5" cy="1315.7" rx="1.4" ry="2.1" transform="rotate(30 542.5 1315.7)"/>
<ellipse class="hs" cx="542.5" cy="1327.5" rx="1.4" ry="2.1" transform="rotate(30 542.5 1327.5)"/>
<ellipse class="hs" cx="542.5" cy="1338.8" rx="1.4" ry="2.1" transform="rotate(30 542.5 1338.8)"/>
<ellipse class="hs" cx="553.2" cy="1322.2" rx="1.4" ry="2.1" transform="rotate(30 553.2 1322.2)"/>
<ellipse class="hs" cx="553.2" cy="1333.4" rx="1.4" ry="2.1" transform="rotate(30 553.2 1333.4)"/>
<ellipse class="hs" cx="553.2" cy="1344.7" rx="1.4" ry="2.1" transform="rotate(30 553.2 1344.7)"/>
<ellipse class="hs" cx="563.8" cy="1328.1" rx="1.4" ry="2.1" transform="rotate(30 563.8 1328.1)"/>
<ellipse class="hs" cx="563.8" cy="1339.3" rx="1.4" ry="2.1" transform="rotate(30 563.8 1339.3)"/>
<ellipse class="hs" cx="563.8" cy="1350.6" rx="1.4" ry="2.1" transform="rotate(30 563.8 1350.6)"/>
<ellipse class="hs" cx="568.5" cy="1302.1" rx="1.4" ry="2.1" transform="rotate(30 568.5 1302.1)"/>
<ellipse class="hs" cx="568.5" cy="1313.3" rx="1.4" ry="2.1" transform="rotate(30 568.5 1313.3)"/>
<ellipse class="hs" cx="573.9" cy="1334.0" rx="1.4" ry="2.1" transform="rotate(30 573.9 1334.0)"/>
<ellipse class="hs" cx="573.9" cy="1345.3" rx="1.4" ry="2.1" transform="rotate(30 573.9 1345.3)"/>
<ellipse class="hs" cx="573.9" cy="1356.5" rx="1.4" ry="2.1" transform="rotate(30 573.9 1356.5)"/>
<ellipse class="hs" cx="590.4" cy="1314.5" rx="1.4" ry="2.1" transform="rotate(30 590.4 1314.5)"/>
<ellipse class="hs" cx="590.4" cy="1326.3" rx="1.4" ry="2.1" transform="rotate(30 590.4 1326.3)"/>
<ellipse class="hs" cx="590.4" cy="1366.6" rx="1.4" ry="2.1" transform="rotate(30 590.4 1366.6)"/>
<ellipse class="hs" cx="600.5" cy="1339.9" rx="1.4" ry="2.1" transform="rotate(30 600.5 1339.9)"/>
<ellipse class="hs" cx="611.7" cy="1326.9" rx="1.4" ry="2.1" transform="rotate(30 611.7 1326.9)"/>
<ellipse class="hs" cx="611.7" cy="1338.2" rx="1.4" ry="2.1" transform="rotate(30 611.7 1338.2)"/>
<ellipse class="hs" cx="609.3" cy="1377.2" rx="1.4" ry="2.1" transform="rotate(30 609.3 1377.2)"/>
<ellipse class="hs" cx="620.0" cy="1360.6" rx="1.4" ry="2.1" transform="rotate(30 620.0 1360.6)"/>
<ellipse class="hs" cx="620.0" cy="1372.5" rx="1.4" ry="2.1" transform="rotate(30 620.0 1372.5)"/>
<ellipse class="hs" cx="620.0" cy="1383.7" rx="1.4" ry="2.1" transform="rotate(30 620.0 1383.7)"/>
<ellipse class="hs" cx="633.6" cy="1339.9" rx="1.4" ry="2.1" transform="rotate(30 633.6 1339.9)"/>
<ellipse class="hs" cx="633.6" cy="1351.2" rx="1.4" ry="2.1" transform="rotate(30 633.6 1351.2)"/>
<ellipse class="hs" cx="641.3" cy="1373.6" rx="1.4" ry="2.1" transform="rotate(30 641.3 1373.6)"/>
<ellipse class="hs" cx="641.3" cy="1384.9" rx="1.4" ry="2.1" transform="rotate(30 641.3 1384.9)"/>
<ellipse class="hs" cx="641.3" cy="1396.1" rx="1.4" ry="2.1" transform="rotate(30 641.3 1396.1)"/>
<ellipse class="hs" cx="665.5" cy="1387.8" rx="1.4" ry="2.1" transform="rotate(30 665.5 1387.8)"/>
<ellipse class="hs" cx="665.5" cy="1398.5" rx="1.4" ry="2.1" transform="rotate(30 665.5 1398.5)"/>
<ellipse class="hs" cx="665.5" cy="1409.7" rx="1.4" ry="2.1" transform="rotate(30 665.5 1409.7)"/>
<path class="os" d="M581.0 1337.0 L599.9 1346.4 L599.9 1363.0 L581.0 1353.5 L581.0 1337.0" />
<line class="os" x1="590.4" y1="1342.9" x2="590.4" y2="1357.1"/>
<path class="od" d="M717.1 1378.0 L718.3 1446.6 L721.2 1450.1 L877.9 1540.0 L880.9 1538.2 L880.3 1470.8" />
<path class="od" d="M717.1 1378.0 L718.9 1374.4 L732.5 1366.1 L749.0 1373.2 L747.8 1382.7 L751.4 1385.1 L775.6 1384.5 L781.0 1393.3 L777.4 1400.4" />
<path class="od" d="M781.0 1393.3 L828.3 1420.0 L827.1 1430.0 L830.6 1432.4 L856.7 1431.2 L861.4 1440.7 L857.8 1447.8" />
<path class="o" d="M861.4 1440.7 L896.9 1459.6 L896.9 1534.1 L880.9 1539.4" />
<path class="os" d="M880.3 1470.8 L896.9 1459.6" />
<path class="od" d="M721.8 1378.0 L880.3 1469.6" />
<path class="os" d="M723.0 1380.9 L878.5 1472.0" />
<path class="os" d="M878.5 1472.0 L878.5 1537.6" />
<ellipse class="ho" cx="731.3" cy="1425.9" rx="3" ry="5.8" transform="rotate(38 731.3 1425.9)"/>
<ellipse class="ho" cx="731.3" cy="1437.1" rx="3" ry="5.8" transform="rotate(38 731.3 1437.1)"/>
<ellipse class="ho" cx="731.3" cy="1448.3" rx="3" ry="5.8" transform="rotate(38 731.3 1448.3)"/>
<ellipse class="ho" cx="757.3" cy="1411.1" rx="3" ry="5.8" transform="rotate(38 757.3 1411.1)"/>
<ellipse class="ho" cx="757.3" cy="1422.3" rx="3" ry="5.8" transform="rotate(38 757.3 1422.3)"/>
<ellipse class="ho" cx="778.6" cy="1423.5" rx="3" ry="5.8" transform="rotate(38 778.6 1423.5)"/>
<ellipse class="ho" cx="778.6" cy="1434.7" rx="3" ry="5.8" transform="rotate(38 778.6 1434.7)"/>
<ellipse class="ho" cx="800.5" cy="1436.5" rx="3" ry="5.8" transform="rotate(38 800.5 1436.5)"/>
<ellipse class="ho" cx="800.5" cy="1447.8" rx="3" ry="5.8" transform="rotate(38 800.5 1447.8)"/>
<ellipse class="ho" cx="822.4" cy="1449.5" rx="3" ry="5.8" transform="rotate(38 822.4 1449.5)"/>
<ellipse class="ho" cx="822.4" cy="1460.2" rx="3" ry="5.8" transform="rotate(38 822.4 1460.2)"/>
<ellipse class="ho" cx="843.6" cy="1461.4" rx="3" ry="5.8" transform="rotate(38 843.6 1461.4)"/>
<ellipse class="ho" cx="843.6" cy="1472.0" rx="3" ry="5.8" transform="rotate(38 843.6 1472.0)"/>
<ellipse class="ho" cx="808.2" cy="1470.8" rx="3" ry="5.8" transform="rotate(38 808.2 1470.8)"/>
<ellipse class="ho" cx="808.2" cy="1481.5" rx="3" ry="5.8" transform="rotate(38 808.2 1481.5)"/>
<ellipse class="ho" cx="830.0" cy="1483.2" rx="3" ry="5.8" transform="rotate(38 830.0 1483.2)"/>
<ellipse class="ho" cx="830.0" cy="1493.9" rx="3" ry="5.8" transform="rotate(38 830.0 1493.9)"/>
<ellipse class="ho" cx="830.0" cy="1504.5" rx="3" ry="5.8" transform="rotate(38 830.0 1504.5)"/>
<ellipse class="ho" cx="851.3" cy="1495.7" rx="3" ry="5.8" transform="rotate(38 851.3 1495.7)"/>
<ellipse class="ho" cx="851.3" cy="1506.9" rx="3" ry="5.8" transform="rotate(38 851.3 1506.9)"/>
<ellipse class="ho" cx="851.3" cy="1517.5" rx="3" ry="5.8" transform="rotate(38 851.3 1517.5)"/>
<ellipse class="ho" cx="864.9" cy="1478.5" rx="3" ry="5.8" transform="rotate(38 864.9 1478.5)"/>
<ellipse class="ho" cx="729.5" cy="1400.4" rx="3" ry="5.8" transform="rotate(38 729.5 1400.4)"/>
<ellipse class="hs" cx="746.7" cy="1405.2" rx="1.4" ry="2.1" transform="rotate(30 746.7 1405.2)"/>
<ellipse class="hs" cx="746.7" cy="1416.4" rx="1.4" ry="2.1" transform="rotate(30 746.7 1416.4)"/>
<ellipse class="hs" cx="742.5" cy="1431.2" rx="1.4" ry="2.1" transform="rotate(30 742.5 1431.2)"/>
<ellipse class="hs" cx="742.5" cy="1443.0" rx="1.4" ry="2.1" transform="rotate(30 742.5 1443.0)"/>
<ellipse class="hs" cx="742.5" cy="1454.3" rx="1.4" ry="2.1" transform="rotate(30 742.5 1454.3)"/>
<ellipse class="hs" cx="753.2" cy="1437.7" rx="1.4" ry="2.1" transform="rotate(30 753.2 1437.7)"/>
<ellipse class="hs" cx="753.2" cy="1448.9" rx="1.4" ry="2.1" transform="rotate(30 753.2 1448.9)"/>
<ellipse class="hs" cx="753.2" cy="1460.2" rx="1.4" ry="2.1" transform="rotate(30 753.2 1460.2)"/>
<ellipse class="hs" cx="763.8" cy="1443.6" rx="1.4" ry="2.1" transform="rotate(30 763.8 1443.6)"/>
<ellipse class="hs" cx="763.8" cy="1454.8" rx="1.4" ry="2.1" transform="rotate(30 763.8 1454.8)"/>
<ellipse class="hs" cx="763.8" cy="1466.1" rx="1.4" ry="2.1" transform="rotate(30 763.8 1466.1)"/>
<ellipse class="hs" cx="768.5" cy="1417.6" rx="1.4" ry="2.1" transform="rotate(30 768.5 1417.6)"/>
<ellipse class="hs" cx="768.5" cy="1428.8" rx="1.4" ry="2.1" transform="rotate(30 768.5 1428.8)"/>
<ellipse class="hs" cx="773.9" cy="1449.5" rx="1.4" ry="2.1" transform="rotate(30 773.9 1449.5)"/>
<ellipse class="hs" cx="773.9" cy="1460.8" rx="1.4" ry="2.1" transform="rotate(30 773.9 1460.8)"/>
<ellipse class="hs" cx="773.9" cy="1472.0" rx="1.4" ry="2.1" transform="rotate(30 773.9 1472.0)"/>
<ellipse class="hs" cx="790.4" cy="1430.0" rx="1.4" ry="2.1" transform="rotate(30 790.4 1430.0)"/>
<ellipse class="hs" cx="790.4" cy="1441.8" rx="1.4" ry="2.1" transform="rotate(30 790.4 1441.8)"/>
<ellipse class="hs" cx="790.4" cy="1482.1" rx="1.4" ry="2.1" transform="rotate(30 790.4 1482.1)"/>
<ellipse class="hs" cx="800.5" cy="1455.4" rx="1.4" ry="2.1" transform="rotate(30 800.5 1455.4)"/>
<ellipse class="hs" cx="811.7" cy="1442.4" rx="1.4" ry="2.1" transform="rotate(30 811.7 1442.4)"/>
<ellipse class="hs" cx="811.7" cy="1453.7" rx="1.4" ry="2.1" transform="rotate(30 811.7 1453.7)"/>
<ellipse class="hs" cx="809.3" cy="1492.7" rx="1.4" ry="2.1" transform="rotate(30 809.3 1492.7)"/>
<ellipse class="hs" cx="820.0" cy="1476.1" rx="1.4" ry="2.1" transform="rotate(30 820.0 1476.1)"/>
<ellipse class="hs" cx="820.0" cy="1488.0" rx="1.4" ry="2.1" transform="rotate(30 820.0 1488.0)"/>
<ellipse class="hs" cx="820.0" cy="1499.2" rx="1.4" ry="2.1" transform="rotate(30 820.0 1499.2)"/>
<ellipse class="hs" cx="833.6" cy="1455.4" rx="1.4" ry="2.1" transform="rotate(30 833.6 1455.4)"/>
<ellipse class="hs" cx="833.6" cy="1466.7" rx="1.4" ry="2.1" transform="rotate(30 833.6 1466.7)"/>
<ellipse class="hs" cx="841.3" cy="1489.1" rx="1.4" ry="2.1" transform="rotate(30 841.3 1489.1)"/>
<ellipse class="hs" cx="841.3" cy="1500.4" rx="1.4" ry="2.1" transform="rotate(30 841.3 1500.4)"/>
<ellipse class="hs" cx="841.3" cy="1511.6" rx="1.4" ry="2.1" transform="rotate(30 841.3 1511.6)"/>
<ellipse class="hs" cx="865.5" cy="1503.3" rx="1.4" ry="2.1" transform="rotate(30 865.5 1503.3)"/>
<ellipse class="hs" cx="865.5" cy="1514.0" rx="1.4" ry="2.1" transform="rotate(30 865.5 1514.0)"/>
<ellipse class="hs" cx="865.5" cy="1525.2" rx="1.4" ry="2.1" transform="rotate(30 865.5 1525.2)"/>
<path class="os" d="M781.0 1452.5 L799.9 1461.9 L799.9 1478.5 L781.0 1469.0 L781.0 1452.5" />
<line class="os" x1="790.4" y1="1458.4" x2="790.4" y2="1472.6"/>
<path class="os" d="M599.0 1252.0 L607.0 1247.0" />
<path class="os" d="M600.0 1250.0 L606.0 1246.0" />
<ellipse class="os" cx="608.0" cy="1246.0" rx="2.2" ry="1.5" transform="rotate(-30 608.0 1246.0)"/>
<path class="os" d="M880.0 1413.0 L888.0 1408.0" />
<path class="os" d="M881.0 1411.0 L887.0 1407.0" />
<ellipse class="os" cx="889.0" cy="1407.0" rx="2.2" ry="1.5" transform="rotate(-30 889.0 1407.0)"/>
<path class="o" d="M109.1 1579.3 L109.1 1466.5 L499.4 1691.5 L499.4 1804.4" />
<path class="od" d="M109.1 1579.3 L499.4 1804.4" />
<path class="os" d="M115.4 1474.2 L493.5 1693.0 L493.5 1796.0 L115.4 1572.0 L115.4 1474.2" />
<path class="os" d="M117.0 1479.0 L492.0 1697.0" />
<path class="od" d="M115.4 1562.0 L493.0 1782.0" />
<path class="os" d="M115.4 1576.8 L493.5 1794.9" />
<path class="fk" d="M115.4 1569.5 L118.5 1571.3 L121.7 1573.1 L124.8 1574.9 L127.9 1576.7 L131.1 1578.5 L134.2 1580.3 L137.4 1582.2 L140.5 1584.0 L143.6 1585.8 L146.8 1587.6 L149.9 1589.4 L153.0 1591.2 L156.2 1593.0 L159.3 1594.8 L162.4 1596.6 L165.6 1598.4 L168.7 1600.2 L171.8 1602.0 L175.0 1603.9 L178.1 1605.7 L181.3 1607.5 L184.4 1609.3 L187.5 1610.6 L190.7 1611.5 L193.8 1612.4 L196.9 1613.3 L200.1 1614.2 L203.2 1615.1 L206.3 1615.9 L209.5 1617.7 L212.6 1620.5 L215.7 1623.3 L218.9 1626.0 L222.0 1628.8 L225.2 1631.6 L228.3 1634.4 L231.4 1636.4 L234.6 1638.2 L237.7 1640.0 L240.8 1641.8 L244.0 1643.6 L247.1 1645.5 L250.2 1647.3 L253.4 1649.1 L256.5 1650.9 L259.6 1652.7 L262.8 1654.5 L265.9 1656.3 L269.1 1658.1 L272.2 1659.9 L275.3 1661.7 L278.5 1663.5 L281.6 1665.3 L284.7 1667.2 L287.9 1669.0 L291.0 1670.8 L294.1 1672.6 L297.3 1674.4 L300.4 1676.2 L303.5 1678.0 L306.7 1679.8 L309.8 1681.6 L313.0 1683.4 L316.1 1685.2 L319.2 1687.0 L322.4 1688.8 L325.5 1690.7 L328.6 1692.5 L331.8 1694.3 L334.9 1696.1 L338.0 1697.9 L341.2 1699.7 L344.3 1701.5 L347.5 1703.3 L350.6 1705.1 L353.7 1706.9 L356.9 1708.7 L360.0 1710.5 L363.1 1712.4 L366.3 1714.2 L369.4 1716.0 L372.5 1717.8 L375.7 1719.6 L378.8 1721.4 L381.9 1723.2 L385.1 1725.0 L388.2 1726.8 L391.4 1728.6 L394.5 1730.4 L397.6 1732.2 L400.8 1734.1 L403.9 1735.9 L407.0 1737.7 L410.2 1739.5 L413.3 1741.3 L416.4 1743.1 L419.6 1744.9 L422.7 1746.7 L425.8 1748.5 L429.0 1750.3 L432.1 1752.1 L435.3 1754.0 L438.4 1755.8 L441.5 1757.6 L444.7 1759.4 L447.8 1761.2 L450.9 1763.0 L454.1 1764.8 L457.2 1766.6 L460.3 1768.4 L463.5 1770.2 L466.6 1772.0 L469.7 1773.8 L472.9 1775.7 L476.0 1777.5 L479.2 1779.3 L482.3 1781.1 L485.4 1782.9 L488.6 1784.7 L491.7 1786.5 L491.7 1791.3 L488.6 1789.5 L485.4 1787.7 L482.3 1785.9 L479.2 1784.1 L476.0 1782.3 L472.9 1780.5 L469.7 1778.6 L466.6 1776.8 L463.5 1775.0 L460.3 1773.2 L457.2 1771.4 L454.1 1769.6 L450.9 1767.8 L447.8 1766.0 L444.7 1764.2 L441.5 1762.4 L438.4 1760.6 L435.3 1758.8 L432.1 1756.9 L429.0 1755.1 L425.8 1753.3 L422.7 1751.5 L419.6 1750.0 L416.4 1748.9 L413.3 1747.8 L410.2 1746.7 L407.0 1745.5 L403.9 1744.4 L400.8 1743.3 L397.6 1741.1 L394.5 1738.6 L391.4 1736.1 L388.2 1733.6 L385.1 1731.1 L381.9 1728.7 L378.8 1726.2 L375.7 1724.4 L372.5 1722.6 L369.4 1720.8 L366.3 1719.0 L363.1 1717.2 L360.0 1715.3 L356.9 1713.5 L353.7 1711.7 L350.6 1709.9 L347.5 1708.1 L344.3 1706.3 L341.2 1704.5 L338.0 1702.7 L334.9 1700.9 L331.8 1699.1 L328.6 1697.3 L325.5 1695.5 L322.4 1693.6 L319.2 1691.8 L316.1 1690.0 L313.0 1688.2 L309.8 1686.4 L306.7 1684.6 L303.5 1682.8 L300.4 1681.0 L297.3 1679.2 L294.1 1677.4 L291.0 1675.6 L287.9 1673.8 L284.7 1672.0 L281.6 1670.1 L278.5 1668.3 L275.3 1666.5 L272.2 1664.7 L269.1 1662.9 L265.9 1661.1 L262.8 1659.3 L259.6 1657.5 L256.5 1655.7 L253.4 1653.9 L250.2 1652.1 L247.1 1650.2 L244.0 1648.4 L240.8 1646.6 L237.7 1644.8 L234.6 1643.0 L231.4 1641.2 L228.3 1639.4 L225.2 1637.6 L222.0 1635.8 L218.9 1634.0 L215.7 1632.2 L212.6 1630.4 L209.5 1628.5 L206.3 1626.7 L203.2 1624.9 L200.1 1623.1 L196.9 1621.3 L193.8 1619.5 L190.7 1617.7 L187.5 1615.9 L184.4 1614.1 L181.3 1612.3 L178.1 1610.5 L175.0 1608.7 L171.8 1606.8 L168.7 1605.0 L165.6 1603.2 L162.4 1601.4 L159.3 1599.6 L156.2 1597.8 L153.0 1596.0 L149.9 1594.2 L146.8 1592.4 L143.6 1590.6 L140.5 1588.8 L137.4 1587.0 L134.2 1585.1 L131.1 1583.3 L127.9 1581.5 L124.8 1579.7 L121.7 1577.9 L118.5 1576.1 L115.4 1574.3 Z" />
<path class="od" d="M190.4 1568.2 L208.2 1577.1 L208.2 1592.4 L190.4 1583.5 L190.4 1568.2" />
<path class="od" d="M382.4 1678.8 L400.2 1689.0 L400.2 1703.0 L382.4 1692.8 L382.4 1678.8" />
<ellipse class="od" cx="292.1" cy="1649.6" rx="23.0" ry="12.0" transform="rotate(28 292.1 1649.6)"/>
<ellipse class="o" cx="224.8" cy="1690.3" rx="24.5" ry="11.5" transform="rotate(33 224.8 1690.3)"/>
<line class="d" x1="238.0" y1="1684.0" x2="296.0" y2="1650.0"/>
</svg>
</body></html>
